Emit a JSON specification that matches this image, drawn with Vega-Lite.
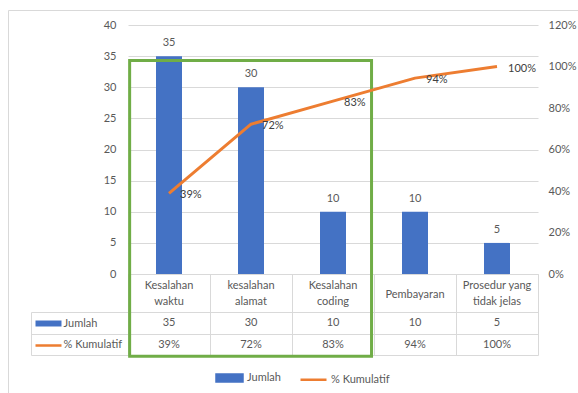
{
  "$schema": "https://vega.github.io/schema/vega-lite/v6.json",
  "autosize": {"type": "none"},
  "width": 410,
  "height": 330,
  "padding": {"left": 128, "top": 25, "right": 40, "bottom": 38},
  "background": "white",
  "config": {
    "view": {"stroke": null},
    "font": "Lato",
    "axis": {"labelFont": "Lato", "labelFontSize": 11, "labelColor": "#595959", "title": null},
    "text": {"font": "Lato", "fontSize": 11, "color": "#595959"},
    "legend": {"labelFont": "Lato", "labelFontSize": 11, "labelColor": "#595959"}
  },
  "data": {
    "values": [
      {"kategori": "Kesalahan waktu", "baris1": "Kesalahan", "baris2": "waktu", "Jumlah": 35, "Kumulatif": 0.389},
      {"kategori": "kesalahan alamat", "baris1": "kesalahan", "baris2": "alamat", "Jumlah": 30, "Kumulatif": 0.722},
      {"kategori": "Kesalahan coding", "baris1": "Kesalahan", "baris2": "coding", "Jumlah": 10, "Kumulatif": 0.833},
      {"kategori": "Pembayaran", "baris1": "Pembayaran", "baris2": "", "Jumlah": 10, "Kumulatif": 0.944},
      {"kategori": "Prosedur yang tidak jelas", "baris1": "Prosedur yang", "baris2": "tidak jelas", "Jumlah": 5, "Kumulatif": 1.0}
    ]
  },
  "encoding": {
    "x": {
      "field": "kategori", "type": "nominal", "sort": null,
      "scale": {"paddingInner": 0, "paddingOuter": 0},
      "axis": {"orient": "bottom", "offset": -81, "labels": false, "domain": true, "domainColor": "#D9D9D9", "ticks": true, "tickBand": "extent", "tickSize": 81, "tickColor": "#D9D9D9", "grid": false, "title": null}
    }
  },
  "layer": [
    {
      "layer": [
        {
          "mark": {"type": "bar", "width": 26},
          "encoding": {
            "y": {"field": "Jumlah", "type": "quantitative",
              "scale": {"domain": [-13, 40], "nice": false, "zero": false},
              "axis": {"orient": "left", "values": [0, 5, 10, 15, 20, 25, 30, 35, 40], "grid": true, "gridColor": "#D9D9D9", "domain": false, "ticks": false, "labelPadding": 12, "title": null}},
            "color": {"datum": "Jumlah",
              "scale": {"domain": ["Jumlah", "% Kumulatif"], "range": ["#4472C4", "#ED7D31"]},
              "legend": {"orient": "none", "legendX": 87, "legendY": 338, "direction": "horizontal", "title": null, "symbolSize": 676, "labelOffset": 3, "columnPadding": 14, "padding": 0,
                "encode": {"symbols": {"update": {
                  "shape": {"signal": "datum.value === 'Jumlah' ? 'M-1,-0.27H1V0.27H-1Z' : 'stroke'"},
                  "fill": {"signal": "datum.value === 'Jumlah' ? '#4472C4' : 'transparent'"},
                  "stroke": {"signal": "datum.value === 'Jumlah' ? 'transparent' : '#ED7D31'"},
                  "strokeWidth": {"value": 2.5},
                  "opacity": {"value": 1}
                }}}}}
          }
        },
        {
          "mark": {"type": "text", "baseline": "bottom", "dy": -8},
          "encoding": {"y": {"field": "Jumlah", "type": "quantitative"}, "text": {"field": "Jumlah"}}
        },
        {
          "data": {"values": [{}]},
          "mark": {"type": "rect", "filled": false, "stroke": "#70AD47", "strokeWidth": 3},
          "encoding": {
            "x": {"datum": "Kesalahan waktu", "bandPosition": 0.02},
            "x2": {"datum": "Kesalahan coding", "bandPosition": 0.97},
            "y": {"datum": 34.3},
            "y2": {"datum": -13.2}
          }
        }
      ]
    },
    {
      "layer": [
        {
          "mark": {"type": "line", "strokeWidth": 3, "strokeJoin": "round"},
          "encoding": {
            "y": {"field": "Kumulatif", "type": "quantitative",
              "scale": {"domain": [-0.39, 1.2], "nice": false, "zero": false},
              "axis": {"orient": "right", "values": [0, 0.2, 0.4, 0.6, 0.8, 1.0, 1.2], "format": ".0%", "grid": false, "domain": false, "ticks": false, "labelPadding": 10, "labelAlign": "left", "title": null}},
            "color": {"datum": "% Kumulatif"}
          }
        },
        {
          "mark": {"type": "text", "align": "left", "baseline": "middle", "dx": 11, "dy": 2, "color": "#404040"},
          "encoding": {"y": {"field": "Kumulatif", "type": "quantitative"}, "text": {"field": "Kumulatif", "format": ".0%"}}
        }
      ]
    },
    {
      "layer": [
        {
          "transform": [{"filter": "datum.baris2 !== ''"}],
          "mark": {"type": "text", "baseline": "middle"},
          "encoding": {
            "y": {"datum": -26, "type": "quantitative",
              "scale": {"domain": [0, 43], "range": [287, 330], "nice": false, "zero": false},
              "axis": {"orient": "left", "offset": 97, "values": [0, 22, 43], "labels": false, "domain": true, "domainColor": "#D9D9D9", "ticks": true, "tickSize": -97, "tickColor": "#D9D9D9", "grid": true, "gridColor": "#D9D9D9", "title": null}},
            "text": {"field": "baris1"}
          }
        },
        {
          "transform": [{"filter": "datum.baris2 !== ''"}],
          "mark": {"type": "text", "baseline": "middle"},
          "encoding": {"y": {"datum": -10.5, "type": "quantitative"}, "text": {"field": "baris2"}}
        },
        {
          "transform": [{"filter": "datum.baris2 === ''"}],
          "mark": {"type": "text", "baseline": "middle"},
          "encoding": {"y": {"datum": -17, "type": "quantitative"}, "text": {"field": "baris1"}}
        },
        {
          "mark": {"type": "text", "baseline": "middle"},
          "encoding": {"y": {"datum": 11, "type": "quantitative"}, "text": {"field": "Jumlah"}}
        },
        {
          "mark": {"type": "text", "baseline": "middle"},
          "encoding": {"y": {"datum": 32.5, "type": "quantitative"}, "text": {"field": "Kumulatif", "format": ".0%"}}
        }
      ]
    },
    {
      "mark": {"type": "point", "opacity": 0},
      "encoding": {
        "y": {"datum": 0, "type": "quantitative",
          "scale": {"domain": [0, 43], "range": [287, 330], "nice": false, "zero": false},
          "axis": {"orient": "left", "offset": 67, "values": [11, 32.5], "labelExpr": "datum.value < 20 ? 'Jumlah' : '% Kumulatif'", "labelAlign": "left", "labelBaseline": "middle", "labelPadding": -28, "tickSize": 26,
            "tickColor": {"condition": {"test": "datum.value < 20", "value": "#4472C4"}, "value": "#ED7D31"},
            "tickWidth": {"condition": {"test": "datum.value < 20", "value": 6}, "value": 2.5},
            "domain": false, "grid": false, "title": null}}
      }
    },
    {
      "mark": {"type": "point", "opacity": 0},
      "encoding": {
        "y": {"datum": 0, "type": "quantitative",
          "scale": {"domain": [0, 1], "range": [-15, 368], "nice": false, "zero": false},
          "axis": {"orient": "left", "offset": 120, "values": [0], "labels": false, "domain": true, "domainColor": "#D9D9D9", "ticks": true, "tickSize": -570, "tickColor": "#D9D9D9", "grid": false, "title": null}}
      }
    }
  ],
  "resolve": {"scale": {"y": "independent"}, "axis": {"y": "independent"}}
}
